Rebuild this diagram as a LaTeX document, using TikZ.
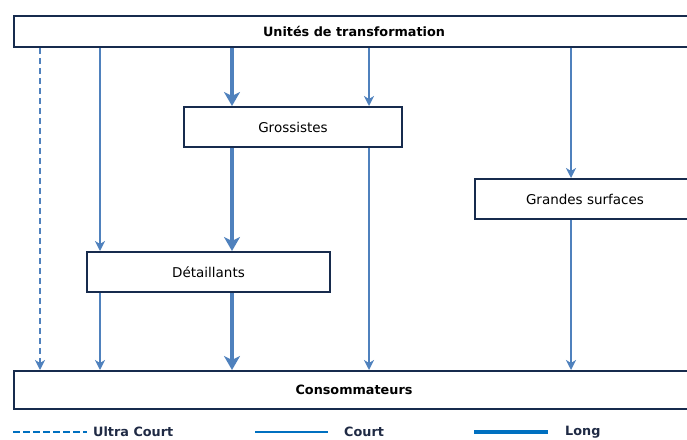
\documentclass[tikz,border=0pt]{standalone}
\usepackage{fontspec}
\setmainfont{DejaVu Sans}
\usetikzlibrary{arrows.meta}
\definecolor{arrowblue}{RGB}{79,129,189}
\definecolor{navy}{RGB}{23,43,77}
\definecolor{legblue}{RGB}{0,112,192}
\definecolor{legtext}{RGB}{31,42,68}
\begin{document}
\begin{tikzpicture}[x=1pt,y=-1pt,
  box/.style={draw=navy,line width=2pt,fill=white,inner sep=0pt,anchor=north west,font=\fontsize{13.5}{15}\selectfont},
  bigbox/.style={box,font=\fontsize{12.8}{15}\selectfont\bfseries},
  court/.style={draw=arrowblue,line width=2.4pt,-{Stealth[length=10pt,width=10pt,inset=3pt]}},
  long/.style={draw=arrowblue,line width=4.5pt,-{Stealth[length=14pt,width=16pt,inset=4pt]}},
  ultra/.style={court,dash pattern=on 6pt off 4pt},
  legtxt/.style={anchor=west,inner sep=0pt,text=legtext,font=\fontsize{12.8}{15}\selectfont\bfseries},
]
\useasboundingbox (0,0) rectangle (687,439);
\clip (0,0) rectangle (687,439);

\node[bigbox,minimum width=680pt,minimum height=31pt] (top) at (13,15) {Unités de transformation};
\node[bigbox,minimum width=680pt,minimum height=38pt] (bot) at (13,370) {Consommateurs};
\node[box,minimum width=218pt,minimum height=40pt] (gros) at (183,106) {Grossistes};
\node[box,minimum width=243pt,minimum height=40pt] (det) at (86,251) {Détaillants};
\node[box,minimum width=220pt,minimum height=40pt] (gs) at (474,178) {Grandes surfaces};

\coordinate (xu) at (40,0);
\coordinate (xc1) at (100,0);
\coordinate (xl) at (232,0);
\coordinate (xc2) at (369,0);
\coordinate (xc3) at (571,0);

\draw[ultra] (top.south -| xu) -- (bot.north -| xu);
\draw[court] (top.south -| xc1) -- (det.north -| xc1);
\draw[court] (det.south -| xc1) -- (bot.north -| xc1);
\draw[long] (top.south -| xl) -- (gros.north -| xl);
\draw[long] (gros.south -| xl) -- (det.north -| xl);
\draw[long] (det.south -| xl) -- (bot.north -| xl);
\draw[court] (top.south -| xc2) -- (gros.north -| xc2);
\draw[court] (gros.south -| xc2) -- (bot.north -| xc2);
\draw[court] (top.south -| xc3) -- (gs.north -| xc3);
\draw[court] (gs.south -| xc3) -- (bot.north -| xc3);

% legend
\coordinate (lu1) at (13,432);
\coordinate (lu2) at (87,432);
\coordinate (lc1) at (255,432);
\coordinate (lc2) at (328,432);
\coordinate (ll1) at (474,432);
\coordinate (ll2) at (548,432);
\draw[legblue,line width=2.4pt,dash pattern=on 7pt off 3pt] (lu1) -- (lu2);
\draw[legblue,line width=2.4pt] (lc1) -- (lc2);
\draw[legblue,line width=4.5pt] (ll1) -- (ll2);
\node[legtxt] (tu) at (93,432) {Ultra Court};
\node[legtxt] (tc) at (344,432) {Court};
\node[legtxt] (tl) at (565,432) {Long};
\end{tikzpicture}
\end{document}
